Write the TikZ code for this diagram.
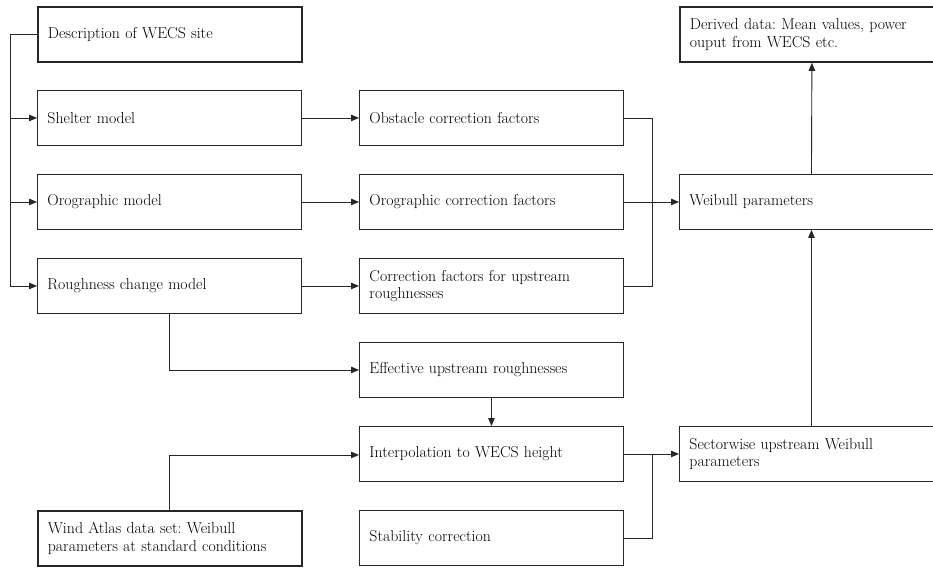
\documentclass[tikz,border=0pt]{standalone}
\usetikzlibrary{arrows.meta}
\begin{document}
\frenchspacing
\begin{tikzpicture}[x=1pt,y=-1pt,
  every node/.style={font=\fontsize{15.8}{17.5}\selectfont},
  boxn/.style={draw=black!85,line width=0.9pt,rectangle,anchor=north west,
    inner xsep=10pt,inner ysep=2pt,align=left,text width=#1,minimum height=55pt},
  boxn/.default=244pt,
  thickbox/.style={line width=1.8pt},
  conn/.style={draw=black!85,line width=0.9pt},
  arr/.style={conn,-{Triangle[length=8pt,width=6.5pt]}}]
\useasboundingbox (0,0) rectangle (933,568);
\clip (0,0) rectangle (933,568);
\fill[white] (0,0) rectangle (933,568);
% column 1
\node[boxn,thickbox] (desc) at (37,6) {Description of WECS site};
\node[boxn] (shelter) at (37,90) {Shelter model};
\node[boxn] (oro) at (37,174) {Orographic model};
\node[boxn] (rough) at (37,258) {Roughness change model};
\node[boxn,thickbox] (wind) at (37,510) {Wind Atlas data set: Weibull\\parameters at standard conditions};
% column 2
\node[boxn] (obst) at (359,90) {Obstacle correction factors};
\node[boxn] (orocorr) at (359,174) {Orographic correction factors};
\node[boxn] (corrf) at (359,258) {Correction factors for upstream\\roughnesses};
\node[boxn] (eff) at (359,342) {Effective upstream roughnesses};
\node[boxn] (interp) at (359,426) {Interpolation to WECS height};
\node[boxn] (stab) at (359,510) {Stability correction};
% column 3
\node[boxn,thickbox] (derived) at (679,6) {Derived data: Mean values, power\\ouput from WECS etc.};
\node[boxn] (weib) at (679,174) {Weibull parameters};
\node[boxn] (sect) at (679,426) {Sectorwise upstream Weibull\\parameters};
% helper coordinates
\coordinate (spine) at (10,0);
\coordinate (bus) at (652,0);
% connectors
\draw[arr] (desc.west) -| (spine |- rough.west) -- (rough.west);
\draw[arr] (spine |- shelter.west) -- (shelter.west);
\draw[arr] (spine |- oro.west) -- (oro.west);
\draw[arr] (shelter.east) -- (obst.west);
\draw[arr] (oro.east) -- (orocorr.west);
\draw[arr] (rough.east) -- (corrf.west);
\draw[conn] (obst.east) -| (bus |- corrf.east) -- (corrf.east);
\draw[arr] (orocorr.east) -- (weib.west);
\draw[arr] (rough.south) |- (eff.west);
\draw[arr] (eff.south) -- (interp.north);
\draw[arr] (wind.north) |- ([yshift=-1pt]interp.west);
\draw[arr] (interp.east) -- (sect.west);
\draw[conn] (stab.east) -| (bus |- interp.east);
\draw[arr] (sect.north) -- (weib.south);
\draw[arr] (weib.north) -- (derived.south);
\end{tikzpicture}
\end{document}
